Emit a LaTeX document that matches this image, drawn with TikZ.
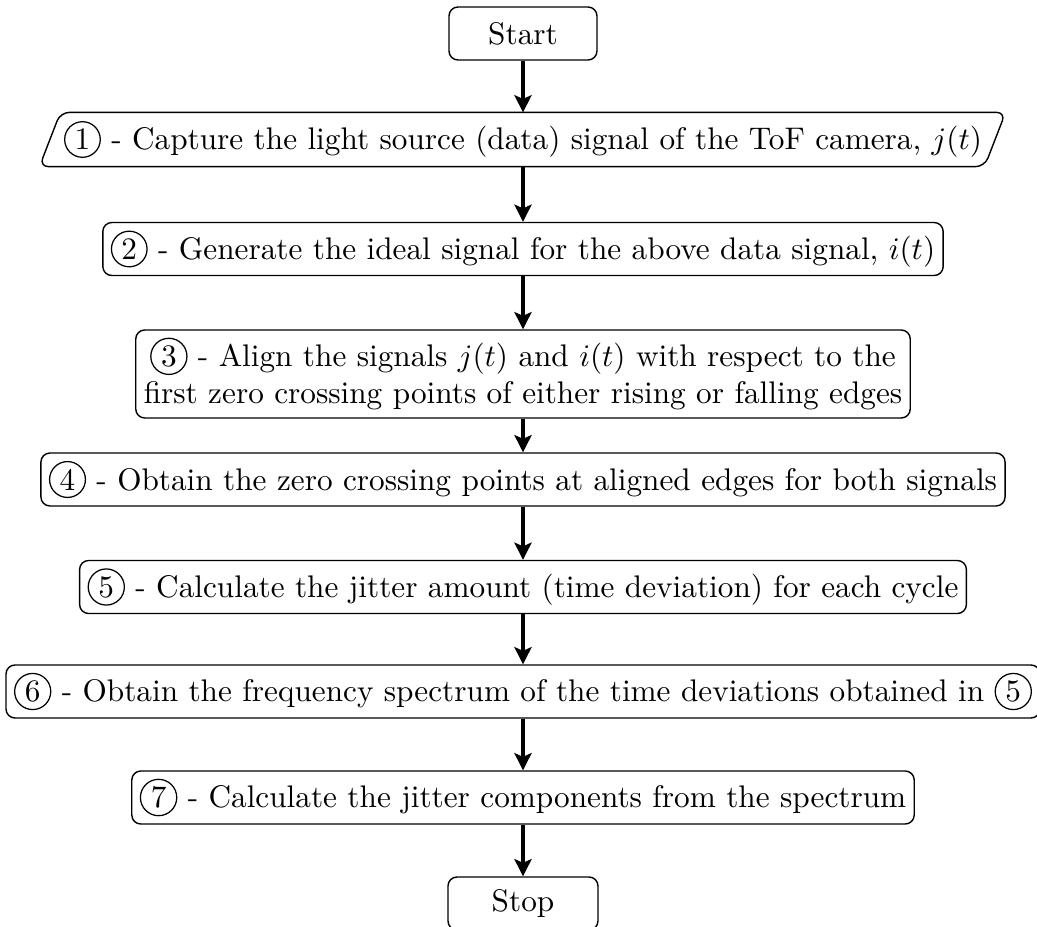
\documentclass[tikz,border=0pt]{standalone}
\usetikzlibrary{arrows.meta}
\newdimen\pxu \pxu=0.320pt
% circled step number, reset so it does not pick up the box settings around it
\newcommand{\cnum}[1]{\tikz[baseline=(cn.base)]\node[circle,draw,inner sep=1.1pt,minimum size=0pt,line width=0.4pt,rounded corners=0pt](cn){#1};}
\tikzset{
  stepbox/.style={draw,rounded corners=9\pxu,align=center,inner xsep=8\pxu,inner ysep=0pt,minimum height=53\pxu,line width=0.45pt},
  iotext/.style={align=center,inner xsep=8\pxu,inner ysep=0pt,minimum height=53\pxu},
  ioframe/.style={draw,rounded corners=9\pxu,line width=0.45pt},
  flow/.style={line width=1.3pt,-{Stealth[length=5.5pt,width=5.5pt,inset=1.2pt]}}
}
\begin{document}
\begin{tikzpicture}[x=\pxu,y=-\pxu]
\useasboundingbox (0,0) rectangle (1037,927);
\node[stepbox,minimum width=148\pxu] (start) at (523,33.5) {Start};
\node[iotext] (s1) at (523,139.5) {\cnum{1} - Capture the light source (data) signal of the ToF camera, $j(t)$};
% slanted input/output frame around step 1
\draw[ioframe] ([xshift=-16\pxu]s1.south west) -- ([xshift=5\pxu]s1.north west)
  -- ([xshift=15\pxu]s1.north east) -- ([xshift=-6\pxu]s1.south east) -- cycle;
\node[stepbox] (s2) at (523,249) {\cnum{2} - Generate the ideal signal for the above data signal, $i(t)$};
\node[stepbox,minimum height=88\pxu] (s3) at (523,374) {\cnum{3} - Align the signals $j(t)$ and $i(t)$ with respect to the\\ first zero crossing points of either rising or falling edges};
\node[stepbox] (s4) at (523,479.5) {\cnum{4} - Obtain the zero crossing points at aligned edges for both signals};
\node[stepbox] (s5) at (523,587) {\cnum{5} - Calculate the jitter amount (time deviation) for each cycle};
\node[stepbox] (s6) at (523,691.5) {\cnum{6} - Obtain the frequency spectrum of the time deviations obtained in \cnum{5}};
\node[stepbox] (s7) at (523,797.5) {\cnum{7} - Calculate the jitter components from the spectrum};
\node[stepbox,minimum width=150\pxu] (stop) at (523,903.5) {Stop};
\draw[flow] (start) -- (s1);
\draw[flow] (s1) -- (s2);
\draw[flow] (s2) -- (s3);
\draw[flow] (s3) -- (s4);
\draw[flow] (s4) -- (s5);
\draw[flow] (s5) -- (s6);
\draw[flow] (s6) -- (s7);
\draw[flow] (s7) -- (stop);
\end{tikzpicture}
\end{document}
